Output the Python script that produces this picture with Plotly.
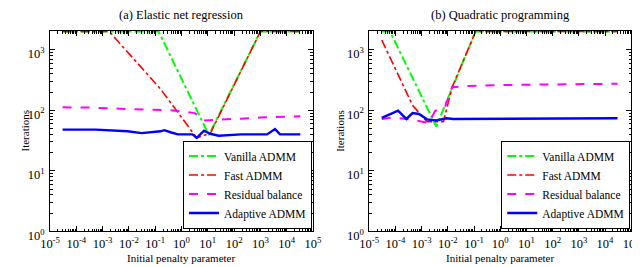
import plotly.graph_objects as go

# ---------------- data ----------------
# (a) Elastic net regression
a_vanilla_rho = [3.0e-5, 1.35e-1, 1.1e1, 1.0e3, 3.3e4]
a_vanilla_it = [2000, 2000, 39, 2000, 2000]

a_fast_rho = [3.0e-5, 1.8e-3, 1.6e-1, 3.8e0, 1.26e1, 1.0e3, 3.3e4]
a_fast_it = [2000, 2000, 224, 35, 42, 2000, 2000]

a_rb_rho = [3.0e-5, 3.0e-4, 1.0e-2, 4.0e-1, 3.2e0, 8.0e0, 1.0e2, 1.0e3, 3.3e4]
a_rb_it = [112, 111, 105, 100, 90, 68, 72, 76, 80]

a_ad_rho = [3.0e-5, 5.4e-4, 8.9e-3, 3.0e-2, 1.6e-1, 2.2e-1, 4.1e-1, 7.4e-1,
            2.6e0, 3.8e0, 7.2e0, 1.23e1, 2.6e1, 1.86e2, 1.8e3, 3.6e3, 5.6e3, 3.3e4]
a_ad_it = [48, 48, 45, 42, 45, 47, 43, 40, 40, 35, 46, 41, 38, 40, 40, 49, 40, 40]

# (b) Quadratic programming
b_vanilla_rho = [3.0e-5, 6.2e-5, 3.6e-3, 1.15e-1, 3.0e4]
b_vanilla_it = [2000, 2000, 54, 2000, 2000]

b_fast_rho = [3.0e-5, 4.5e-4, 1.6e-3, 6.8e-3, 1.45e-2, 1.15e-1, 3.0e4]
b_fast_it = [1450, 121, 65, 65, 240, 2000, 2000]

b_rb_rho = [3.0e-5, 7.1e-5, 4.5e-4, 1.86e-3, 3.3e-3, 7.8e-3, 1.45e-2,
            4.3e-2, 1.3e0, 1.0e2, 3.0e4]
b_rb_it = [72, 76, 70, 62, 98, 114, 240, 252, 262, 266, 275]

b_ad_rho = [3.0e-5, 1.26e-4, 2.6e-4, 4.5e-4, 7.9e-4, 1.6e-3, 3.6e-3, 8.9e-3,
            1.6e-2, 3.5e-1, 4.0e-1, 3.0e4]
b_ad_it = [75, 99, 72, 90, 87, 71, 68, 74, 72, 72, 74, 74]

x_tick_exp = list(range(-5, 6))
y_tick_exp = list(range(0, 4))

names = ["Vanilla ADMM", "Fast ADMM", "Residual balance", "Adaptive ADMM"]
colors = ["#00ff00", "#ff0000", "#ff00ff", "#0000ff"]
dashes = ["dashdot", "dashdot", "dash", "solid"]
widths = [2, 1.6, 2, 2.4]

FONT = "Times New Roman, Liberation Serif, serif"

fig = go.Figure()

panels = [
    ([(a_vanilla_rho, a_vanilla_it), (a_fast_rho, a_fast_it),
      (a_rb_rho, a_rb_it), (a_ad_rho, a_ad_it)], "x", "y", "legend"),
    ([(b_vanilla_rho, b_vanilla_it), (b_fast_rho, b_fast_it),
      (b_rb_rho, b_rb_it), (b_ad_rho, b_ad_it)], "x2", "y2", "legend2"),
]
for series, xa, ya, leg in panels:
    for (rx, it), nm, c, d, w in zip(series, names, colors, dashes, widths):
        fig.add_trace(go.Scatter(
            x=rx, y=it, mode="lines", name=nm, xaxis=xa, yaxis=ya,
            legend=leg, line=dict(color=c, dash=d, width=w)))

minor_x = [m * 10 ** e for e in range(-5, 5) for m in range(2, 10)]
minor_y = [m * 10 ** e for e in range(0, 4) for m in range(2, 10)]

def xaxis(domain, anchor):
    return dict(
        type="log", domain=domain, anchor=anchor, range=[-5, 5],
        tickmode="array", tickvals=[10 ** e for e in x_tick_exp],
        ticktext=[f"10<sup>{e}</sup>" for e in x_tick_exp],
        ticks="inside", ticklen=5, tickcolor="black", tickwidth=1,
        ticklabelstandoff=1,
        minor=dict(tickmode="array", tickvals=minor_x, ticks="inside",
                   ticklen=2.5, tickcolor="black", showgrid=False),
        showline=True, linecolor="black", linewidth=1, mirror="allticks",
        showgrid=False, zeroline=False,
        tickfont=dict(family=FONT, size=12.5, color="black"))

def yaxis(domain, anchor):
    return dict(
        type="log", domain=domain, anchor=anchor, range=[0, 3.31],
        tickmode="array", tickvals=[10 ** e for e in y_tick_exp],
        ticktext=[f"10<sup>{e}</sup>" for e in y_tick_exp],
        ticks="inside", ticklen=5, tickcolor="black", tickwidth=1,
        ticklabelshift=4, ticklabelstandoff=2,
        minor=dict(tickmode="array", tickvals=minor_y, ticks="inside",
                   ticklen=2.5, tickcolor="black", showgrid=False),
        showline=True, linecolor="black", linewidth=1, mirror="allticks",
        showgrid=False, zeroline=False,
        tickfont=dict(family=FONT, size=12.5, color="black"))

ydom = [34 / 267, 243 / 267]
legend_style = dict(
    bgcolor="white", bordercolor="black", borderwidth=1,
    font=dict(family=FONT, size=11.5, color="black"),
    xanchor="right", yanchor="bottom", tracegroupgap=0,
    itemwidth=30)

fig.update_layout(
    width=640, height=267, autosize=False,
    margin=dict(l=0, r=0, t=0, b=0),
    paper_bgcolor="white", plot_bgcolor="white",
    xaxis=xaxis([33 / 640, 304 / 640], "y"),
    yaxis=yaxis(ydom, "x"),
    xaxis2=xaxis([362 / 640, 632 / 640], "y2"),
    yaxis2=yaxis(ydom, "x2"),
    legend=dict(x=303 / 640, y=37 / 267, **legend_style),
    legend2=dict(x=631 / 640, y=37 / 267, **legend_style),
    showlegend=True,
)

ann_font = dict(family=FONT, size=12.5, color="black")
lab_font = dict(family=FONT, size=11, color="black")
annotations = [
    dict(text="(a) Elastic net regression", x=168.5 / 640, y=1 - 7 / 267,
         font=ann_font),
    dict(text="(b) Quadratic programming", x=497 / 640, y=1 - 7 / 267,
         font=ann_font),
    dict(text="Initial penalty parameter", x=168.5 / 640, y=1 - 261 / 267,
         font=lab_font),
    dict(text="Initial penalty parameter", x=497 / 640, y=1 - 261 / 267,
         font=lab_font),
    dict(text="Iterations", x=7 / 640, y=1 - 128 / 267, textangle=-90,
         font=lab_font),
    dict(text="Iterations", x=332 / 640, y=1 - 128 / 267, textangle=-90,
         font=lab_font),
]
for a in annotations:
    fig.add_annotation(xref="paper", yref="paper", showarrow=False,
                       xanchor="center", yanchor="middle", **a)

fig.write_html("out.html")
